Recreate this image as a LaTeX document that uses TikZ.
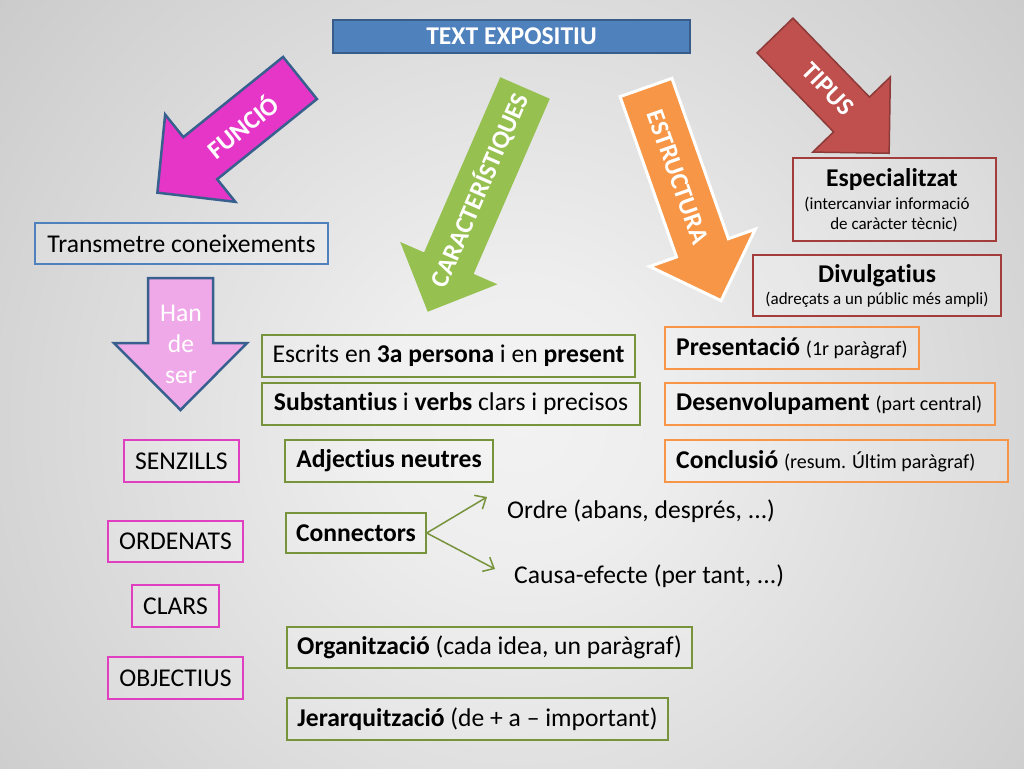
\documentclass[tikz,border=0pt]{standalone}
\usepackage{fontspec}
\setmainfont{Carlito}[Ligatures=CommonOff]
\usetikzlibrary{arrows.meta}
\definecolor{bgA}{HTML}{F2F2F2}
\definecolor{bgB}{HTML}{EEEEEE}
\definecolor{bgC}{HTML}{C9C9C9}
\definecolor{bgD}{HTML}{BBBBBB}
\definecolor{bgE}{HTML}{989898}
\definecolor{bgF}{HTML}{888888}
\definecolor{titleblue}{HTML}{4F81BD}
\definecolor{titleborder}{HTML}{385D8A}
\definecolor{darkblue}{HTML}{37608F}
\definecolor{magentaA}{HTML}{E536C7}
\definecolor{pinkA}{HTML}{EFA9E8}
\definecolor{greenA}{HTML}{96C050}
\definecolor{orangeA}{HTML}{F79646}
\definecolor{redA}{HTML}{C0504D}
\definecolor{redB}{HTML}{8C3A38}
\definecolor{olive}{HTML}{77933C}
\definecolor{boxmag}{HTML}{E040C0}
\definecolor{boxred}{HTML}{A33D3B}
\pgfdeclareradialshading{bgshade}{\pgfpoint{0bp}{0bp}}{color(0bp)=(bgA); color(5bp)=(bgB); color(25bp)=(bgC); color(30bp)=(bgD); color(37bp)=(bgE); color(50bp)=(bgF)}
\newcommand\blockarrow[7]{%
  \begin{scope}[shift={#2}, rotate=#3]
    \path[#1] (0,-#5) -- ({#4-#7},-#5) -- ({#4-#7},-#6) -- (#4,0) -- ({#4-#7},#6) -- ({#4-#7},#5) -- (0,#5) -- cycle;
  \end{scope}}
\tikzset{
  big/.style={font=\fontsize{25.6}{30}\selectfont},
  small/.style={font=\fontsize{17}{20}\selectfont},
  box/.style={draw, line width=1.5pt, fill=white, fill opacity=0.18, text opacity=1, inner sep=0pt, big, text=black},
  bluebox/.style={box, draw=titleblue},
  magbox/.style={box, draw=boxmag},
  greenbox/.style={box, draw=olive},
  orangebox/.style={box, draw=orangeA, line width=2pt},
  redbox/.style={box, draw=boxred},
  arrowlabel/.style={text=white, font=\fontsize{25.6}{30}\selectfont\bfseries, inner sep=0pt},
  plain/.style={big, text=black, inner sep=0pt},
  conn/.style={draw=olive, line width=1.5pt, -{Straight Barb[length=9pt,width=16pt,line width=1.5pt]}}
}
\begin{document}
\begin{tikzpicture}[x=1pt,y=-1pt]
\useasboundingbox (0,0) rectangle (1024,768);
\begin{scope}
  \clip (0,0) rectangle (1024,768);
  \shade[shading=bgshade] (-180,-280) rectangle (1220,1120);
\end{scope}

% title
\node[draw=titleborder, line width=1.5pt, fill=titleblue, minimum width=357pt, minimum height=33pt, inner sep=0pt, text=white, font=\fontsize{25.6}{30}\selectfont\bfseries] (title) at (511.5,36.5) {TEXT EXPOSITIU};

% big arrows
\blockarrow{fill=magentaA, draw=darkblue, line width=2.5pt, line join=miter}{(300,78)}{218.8}{183}{27}{56}{55}
\node[arrowlabel, rotate=38.8] (funcio) at (242,126) {FUNCIÓ};

\blockarrow{fill=greenA}{(525,88)}{246.5}{244}{27}{53}{53}
\node[arrowlabel, rotate=66.5] (caract) at (479,190) {CARACTERÍSTIQUES};

\blockarrow{fill=orangeA, draw=white, line width=3pt}{(646,87.5)}{-70.6}{226}{27.5}{56}{56}
\node[arrowlabel, rotate=-70.6] (estruct) at (678,177) {ESTRUCTURA};

\blockarrow{fill=redA, draw=redB, line width=1.5pt}{(775,35.5)}{-45.9}{164}{25}{54}{54}
\node[arrowlabel, rotate=-45.9] (tipus) at (828,89) {TIPUS};

\blockarrow{fill=pinkA, draw=darkblue, line width=2.5pt}{(180.5,278)}{-90}{132}{32.5}{66.5}{67}
\node[text=white, font=\fontsize{25.6}{31}\selectfont, align=center, inner sep=0pt] (hande) at (181,344) {Han\\de\\ser};

% left column
\node[bluebox, minimum width=293pt, minimum height=41pt] (trans) at (181.5,243.5) {Transmetre coneixements};
\node[magbox, minimum width=115pt, minimum height=42pt] (senz) at (181.5,461) {SENZILLS};
\node[magbox, minimum width=135pt, minimum height=41pt] (orden) at (175.5,541.5) {ORDENATS};
\node[magbox, minimum width=87pt, minimum height=42pt] (clars) at (175.5,606) {CLARS};
\node[magbox, minimum width=135pt, minimum height=42pt] (objec) at (175.5,678) {OBJECTIUS};

% middle column
\node[greenbox, minimum width=373pt, minimum height=42pt] (escrits) at (448.5,356) {Escrits en \textbf{3a persona} i en \textbf{present}};
\node[greenbox, minimum width=378pt, minimum height=42pt] (subst) at (451,404) {\textbf{Substantius} i \textbf{verbs} clars i precisos};
\node[greenbox, minimum width=208pt, minimum height=42pt] (adj) at (389,461) {\textbf{Adjectius neutres}};
\node[greenbox, minimum width=140pt, minimum height=40pt] (connb) at (356,533) {\textbf{Connectors}};
\node[greenbox, minimum width=405pt, minimum height=41pt] (org) at (489.5,647.5) {\textbf{Organització} (cada idea, un paràgraf)};
\node[greenbox, minimum width=381pt, minimum height=42pt] (jer) at (477.5,719) {\textbf{Jerarquització} (de + a – important)};

\node[plain, anchor=west] (ordre) at (507,511) {Ordre (abans, després, ...)};
\node[plain, anchor=west] (causa) at (514,576) {Causa-efecte (per tant, ...)};
\coordinate (ordretip) at (487,497);
\coordinate (causatip) at (495,569);
\draw[conn] (connb.east) -- (ordretip);
\draw[conn] (connb.east) -- (causatip);

% right column
\node[orangebox, minimum width=254pt, minimum height=42pt] (pres) at (792,348) {};
\node[plain, anchor=west] (prest) at ([xshift=12pt]pres.west) {\textbf{Presentació} {\fontsize{20}{22}\selectfont (1r paràgraf)}};
\node[orangebox, minimum width=330pt, minimum height=42pt] (desen) at (830,404) {};
\node[plain, anchor=west] (desent) at ([xshift=12pt]desen.west) {\textbf{Desenvolupament} {\fontsize{20}{22}\selectfont (part central)}};
\node[orangebox, minimum width=343pt, minimum height=42pt] (concl) at (836.5,461) {};
\node[plain, anchor=west] (conclt) at ([xshift=12pt]concl.west) {\textbf{Conclusió} {\fontsize{20}{22}\selectfont (resum. Últim paràgraf)}};

\node[redbox, minimum width=203pt, minimum height=83pt] (espec) at (894.5,199.5) {};
\node[plain, font=\fontsize{25.6}{30}\selectfont\bfseries] (espect) at (892,180) {Especialitzat};
\node[plain, small] (espec1) at (887,204) {(intercanviar informació};
\node[plain, small] (espec2) at (894,224) {de caràcter tècnic)};

\node[redbox, minimum width=248pt, minimum height=61pt] (divul) at (877,285.5) {};
\node[plain, font=\fontsize{25.6}{30}\selectfont\bfseries] (divult) at (877,276) {Divulgatius};
\node[plain, small] (divul1) at (877,300) {(adreçats a un públic més ampli)};
\end{tikzpicture}
\end{document}
